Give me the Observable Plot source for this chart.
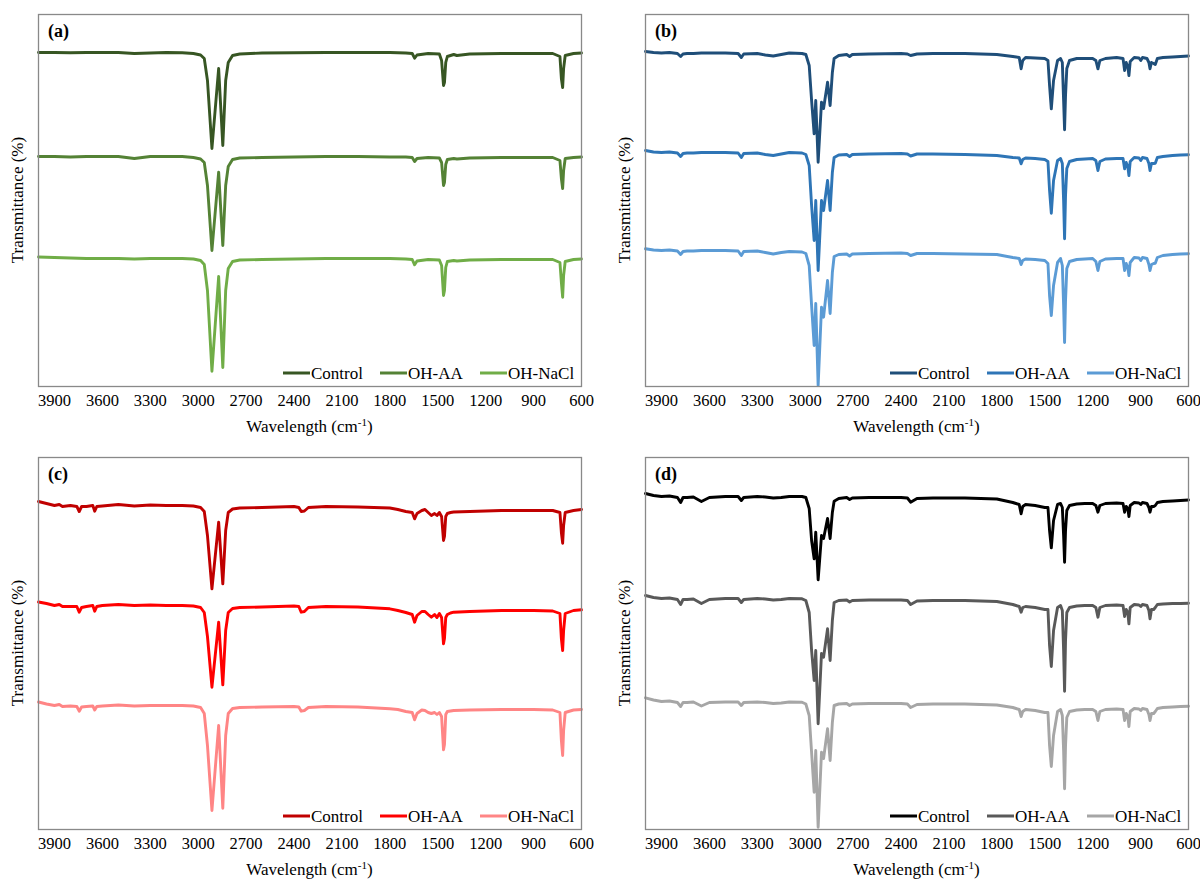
<!DOCTYPE html>
<html>
<head>
<meta charset="utf-8">
<script src="https://cdn.jsdelivr.net/npm/d3@7"></script>
<script src="https://cdn.jsdelivr.net/npm/@observablehq/plot@0.6"></script>
<style>
  html, body { margin: 0; padding: 0; background: #fff; }
  body { width: 1200px; height: 881px; overflow: hidden; position: relative; }
  .panel { position: absolute; width: 600px; height: 440px; }
  .panel svg { overflow: visible; }
</style>
</head>
<body>
<div id="pa" class="panel" style="left:0px;top:0px"></div>
<div id="pb" class="panel" style="left:607px;top:0px"></div>
<div id="pc" class="panel" style="left:0px;top:443px"></div>
<div id="pd" class="panel" style="left:607px;top:443px"></div>
<script>
// ---------- data ----------
const SERIES = ["Control", "OH-AA", "OH-NaCl"];
const X_TICKS = [3900, 3600, 3300, 3000, 2700, 2400, 2100, 1800, 1500, 1200, 900, 600];

// Transmittance in arbitrary (offset) units; wavenumbers in cm-1

// Panel (a) grid
const gridA = [4000, 3900, 3800, 3700, 3600, 3500, 3400, 3300, 3200, 3100,
  3030, 2985, 2962, 2942, 2914, 2872, 2846, 2828, 2812, 2785,
  2740, 2600, 2400, 2200, 2000, 1800, 1700, 1660, 1645, 1630,
  1560, 1490, 1476, 1464, 1458, 1450, 1440, 1420, 1400, 1380,
  1300, 1100, 900, 780, 735, 726, 718, 712, 702, 650,
  600];
const aControl = [334, 334, 333.7, 334, 334, 334, 333, 333.5, 334, 333.7,
  333, 331.5, 328, 306, 238, 318, 241, 306, 324, 331,
  332.5, 333.5, 333.7, 334, 334, 334, 333.5, 333, 328.3, 331.5,
  333, 332.5, 326, 301, 304, 324, 330, 331, 332, 331,
  332.5, 333, 333, 333, 330, 308, 299, 318, 331, 333,
  333.5];
const aOHAA = [230, 230, 229.5, 230, 230, 230, 228, 230, 230, 230,
  229, 227.5, 224, 201, 136, 214.3, 141, 201, 220, 227,
  228.5, 229, 229.5, 230, 230, 229.5, 229.5, 229, 225, 228,
  229, 228.5, 224, 201, 204, 222, 227, 227.5, 228, 227.5,
  228.5, 229, 229, 229, 226, 208, 198, 216, 228, 229,
  229.5];
const aOHNaCl = [129.5, 129, 128.5, 128, 128, 128, 127.5, 128, 128, 128,
  127.5, 126, 122, 96, 15.3, 110, 19, 96, 118, 125,
  126.5, 127, 127.5, 128, 128, 128, 127.5, 127, 121.7, 125.5,
  127, 126.5, 121, 91, 96, 119, 125, 125.5, 126, 125.5,
  126.5, 127, 127, 127, 124, 104, 89.3, 111, 125, 127,
  127.5];

// Panels (b) and (d) grid
const gridB = [4000, 3950, 3900, 3850, 3800, 3780, 3765, 3740, 3700, 3650,
  3600, 3500, 3420, 3400, 3385, 3300, 3250, 3200, 3150, 3100,
  3020, 2996, 2975, 2960, 2944, 2934, 2919, 2898, 2885, 2860,
  2844, 2830, 2819, 2790, 2740, 2722, 2705, 2600, 2400, 2360,
  2340, 2300, 2200, 2000, 1800, 1700, 1660, 1648, 1638, 1620,
  1560, 1500, 1480, 1470, 1459, 1445, 1420, 1401, 1390, 1382,
  1376, 1370, 1362, 1345, 1300, 1250, 1200, 1180, 1167, 1155,
  1120, 1050, 1010, 1000, 990, 980, 973, 965, 940, 910,
  899, 888, 860, 848, 841, 832, 818, 808, 795, 760,
  700, 650, 600];
const bControl = [335, 334, 333.5, 334, 333, 330, 332.5, 333, 333, 333.5,
  333.5, 333.5, 333, 329, 332.5, 333, 331.5, 330.5, 332, 333.5,
  333, 332, 321, 286, 252.7, 286, 224.3, 284.3, 278, 304.3,
  281, 314, 328, 331, 332, 330, 332, 332.5, 333, 332.5,
  331, 332.5, 333, 333, 332, 330, 329, 317.7, 326, 329,
  328.5, 328, 326, 301, 277.7, 306, 326, 328, 324, 286,
  256.7, 291, 318, 326, 328, 328, 328, 326, 317.7, 326,
  328, 329, 328, 316, 324, 320, 311, 325, 329, 328.5,
  326, 329, 328, 324, 317.7, 324, 323, 322, 328, 329,
  329.5, 330, 330.5];
const bOHAA = [236, 234.5, 234, 234.5, 233.5, 230, 233, 233.5, 233.5, 234,
  234, 234, 233.5, 229, 233, 233.5, 232, 231, 232.5, 234,
  233.5, 232, 221, 181, 146, 186, 116, 186, 176, 206,
  176, 214, 229, 231.5, 232, 230, 232, 232.5, 233, 232.5,
  230.5, 232.5, 232.5, 232, 231, 229, 228.5, 222.7, 227, 228.5,
  228, 227, 225, 196, 173.3, 206, 226, 228, 223, 186,
  147.7, 191, 218, 225, 227, 227.5, 228, 226, 216, 225,
  227.5, 228, 228, 217.7, 224, 220, 211, 225, 229, 228.5,
  226, 229, 228, 223, 216, 223, 223, 223.3, 229, 230,
  231, 231.5, 231.7];
const bOHNaCl = [137.7, 136.5, 136, 136.5, 135.5, 132, 135, 135.5, 135.5, 136,
  136, 136, 135.5, 131, 135, 135.5, 134, 132.5, 134, 135,
  134.5, 133, 121, 81, 41, 83, 1, 79.3, 69.3, 106,
  73, 114, 130, 132, 132.5, 130.5, 132.5, 133, 133.5, 133,
  131, 133, 133, 132.5, 132, 129, 128, 122, 126, 127.5,
  127, 126, 123, 91, 71, 101, 124, 128, 121, 81,
  44, 86, 118, 125, 127, 127.5, 128, 125, 116, 125,
  127.5, 128, 128, 116, 123, 119, 111, 124, 129, 128.5,
  126, 129, 128, 122, 116, 122, 123, 123.3, 129, 131,
  132, 132.5, 132.7];

// Panel (c) grid
const gridC = [4000, 3950, 3900, 3870, 3850, 3800, 3760, 3745, 3730, 3700,
  3660, 3648, 3635, 3600, 3500, 3400, 3300, 3200, 3100, 3030,
  2985, 2962, 2942, 2914, 2872, 2846, 2828, 2812, 2785, 2740,
  2600, 2400, 2370, 2355, 2335, 2310, 2200, 2000, 1800, 1750,
  1700, 1660, 1645, 1630, 1600, 1580, 1560, 1540, 1520, 1505,
  1490, 1476, 1464, 1458, 1450, 1440, 1420, 1400, 1300, 1100,
  900, 780, 735, 726, 718, 712, 702, 650, 600];
const cControl = [328, 326, 324, 325, 323, 324, 323, 318, 323, 323,
  324, 318.3, 323, 323.5, 325, 323.5, 324.5, 324, 324, 323.5,
  322, 318, 294, 240.7, 307.3, 245.7, 299, 317, 320.5, 321.5,
  322, 323, 322, 318, 318.5, 322, 323, 322.5, 321.5, 320,
  318, 317, 310.7, 316, 319, 320, 317, 314, 316, 314,
  317, 313, 289, 293, 313, 316, 317, 317.5, 318, 319,
  319, 319, 317, 297, 286.3, 304, 317, 319, 320];
const cOHAA = [227.5, 226, 224, 225, 223, 223, 223, 217.3, 222, 223,
  224, 218.3, 223, 224, 225, 224, 224.5, 224, 224, 223.5,
  222, 217, 193, 142.3, 207.3, 144.7, 199, 217, 221, 222,
  222.5, 223.5, 223, 217.3, 218, 222, 223, 222.5, 220.7, 219,
  217, 215, 207.3, 214, 218, 218, 215, 212.3, 215, 212,
  216, 212, 185.7, 191, 212, 215, 216.5, 217.3, 218, 219,
  219, 218.5, 216, 191, 179, 199, 216, 219, 219.7];
const cOHNaCl = [127.5, 125.5, 124, 125, 123, 123.5, 123, 118.3, 122.5, 123,
  123.5, 119.5, 123, 123.5, 124.5, 123.5, 124, 124, 124, 123.5,
  122, 116, 84, 19, 104, 21.3, 94, 116, 121, 122,
  122.5, 123, 122.5, 118.3, 119, 122, 123, 122.5, 120.7, 120,
  118, 117, 109.7, 116, 119.5, 119, 117, 116, 117, 115,
  117, 113, 79.7, 85, 115, 118, 118.5, 119, 119.5, 120,
  120, 119.5, 117, 89, 74, 99, 117, 119.5, 120];

// Panel (d) values on gridB
const dControl = [336, 334, 333, 333.5, 332, 327, 332, 332, 332.5, 328,
  332, 333, 333, 329, 332, 333, 332.5, 331.5, 332, 333,
  333, 332, 321, 289, 270.7, 297.3, 249.7, 294, 291, 311,
  291, 317, 328.3, 331, 332, 330, 331.5, 332, 332, 331.5,
  327.3, 331, 331.5, 331.5, 330.5, 327, 325, 315.7, 323, 325,
  324, 322, 322, 299, 281.7, 309, 325, 326, 322, 294,
  267.3, 299, 319, 324, 325.5, 326, 326, 324, 317.3, 324,
  326, 326.5, 326, 317.3, 323, 321, 313, 324, 327, 326.5,
  325, 327, 326, 322, 317.3, 323, 323, 324, 327, 328,
  328.5, 329, 329.5];
const dOHAA = [234, 232, 231, 231.5, 230, 225, 230, 230, 230.5, 226,
  230, 231, 231, 227, 230, 231, 230.5, 229.5, 230, 231,
  230.7, 229, 217, 179, 149, 179, 105.7, 176, 172.3, 200.7,
  169, 209, 227, 229, 229.5, 227.5, 229, 229.5, 229.5, 229,
  225, 228.5, 229, 229, 228, 225, 223, 217.3, 222, 223,
  222, 220, 220, 184, 163, 199, 222, 224, 219, 179,
  138.3, 189, 217, 222, 223.5, 224, 224, 222, 212.3, 222,
  224, 224.5, 224, 213, 220, 217, 205.7, 222, 225, 224.5,
  223, 225, 224, 219, 210.7, 220, 220, 222, 225, 225.5,
  226, 226, 226.3];
const dOHNaCl = [131.7, 129.5, 128, 128.5, 127, 123, 127, 127, 127.5, 123.5,
  127, 127.5, 127.5, 124, 127, 127.5, 127, 126, 126.5, 127.5,
  127.3, 125.5, 114, 77, 37.3, 79, 2.3, 77.3, 71, 100.7,
  69, 107, 124, 125.5, 126, 124, 125.5, 126, 126, 125.5,
  122, 125, 125.5, 125.5, 124.5, 122, 120, 113, 118, 120,
  119, 117, 117, 84, 63, 94, 118, 120, 114, 79,
  40.7, 84, 112, 118, 119.5, 120, 120, 118, 109, 118,
  120, 120.5, 120, 109, 116, 113, 103, 118, 121, 120.5,
  119, 121, 120, 115, 109, 116, 116, 118, 121, 122,
  122.5, 123, 123.3];

const colorsA = ["#375623", "#548235", "#70AD47"];
const colorsB = ["#1F4E79", "#2E75B6", "#5B9BD5"];
const colorsC = ["#C00000", "#FF0000", "#FF8585"];
const colorsD = ["#000000", "#595959", "#A6A6A6"];

// ---------- drawing ----------
const FONT = "'Liberation Serif', 'Times New Roman', serif";

function panel(id, letter, grid, vals, colors) {
  const rows = [];
  SERIES.forEach((s, i) => {
    const n = Math.min(grid.length, vals[i].length);
    for (let j = 0; j < n; j++) rows.push({wn: grid[j], t: vals[i][j], series: s});
  });
  const svg = Plot.plot({
    width: 600, height: 440,
    marginLeft: 38, marginRight: 19, marginTop: 14, marginBottom: 54,
    style: {fontFamily: FONT, fontSize: "16.5px", color: "#000", background: "transparent"},
    x: {domain: [4000, 600]},
    y: {domain: [0, 372], axis: null},
    color: {domain: SERIES, range: colors},
    marks: [
      Plot.line(rows, {x: "wn", y: "t", z: "series", stroke: "series",
        strokeWidth: 2.9, strokeLinejoin: "round", strokeLinecap: "round"}),
      Plot.frame({stroke: "#898989", strokeWidth: 1.3}),
      Plot.axisX({ticks: X_TICKS, tickFormat: d3.format("d"), tickSize: 0, tickPadding: 8,
        label: null, fill: "#000"})
    ]
  });
  const g = d3.select(svg);
  const xl = g.append("text")
    .attr("x", 309.5).attr("y", 432)
    .attr("text-anchor", "middle")
    .style("font-family", FONT).style("font-size", "17px").attr("fill", "#000");
  xl.append("tspan").text("Wavelength (cm");
  xl.append("tspan").attr("baseline-shift", "super").style("font-size", "11px").text("-1");
  xl.append("tspan").attr("baseline-shift", "0").text(")");
  g.append("text")
    .attr("transform", "translate(23,200) rotate(-90)")
    .attr("text-anchor", "middle")
    .style("font-family", FONT).style("font-size", "17px").attr("fill", "#000")
    .text("Transmittance (%)");
  g.append("text")
    .attr("x", 48).attr("y", 37)
    .attr("text-anchor", "start")
    .style("font-family", FONT).style("font-size", "18px").style("font-weight", "bold")
    .attr("fill", "#000")
    .text("(" + letter + ")");
  const leg = [{x1: 283, x2: 310, tx: 311}, {x1: 380, x2: 407, tx: 408}, {x1: 480, x2: 507, tx: 508}];
  SERIES.forEach((s, i) => {
    g.append("line").attr("x1", leg[i].x1).attr("x2", leg[i].x2)
      .attr("y1", 373).attr("y2", 373)
      .attr("stroke", colors[i]).attr("stroke-width", 3);
    g.append("text").attr("x", leg[i].tx).attr("y", 379)
      .attr("text-anchor", "start")
      .style("font-family", FONT).style("font-size", "17px").attr("fill", "#000")
      .text(s);
  });
  document.getElementById(id).appendChild(svg);
}

panel("pa", "a", gridA, [aControl, aOHAA, aOHNaCl], colorsA);
panel("pb", "b", gridB, [bControl, bOHAA, bOHNaCl], colorsB);
panel("pc", "c", gridC, [cControl, cOHAA, cOHNaCl], colorsC);
panel("pd", "d", gridB, [dControl, dOHAA, dOHNaCl], colorsD);
</script>
</body>
</html>
